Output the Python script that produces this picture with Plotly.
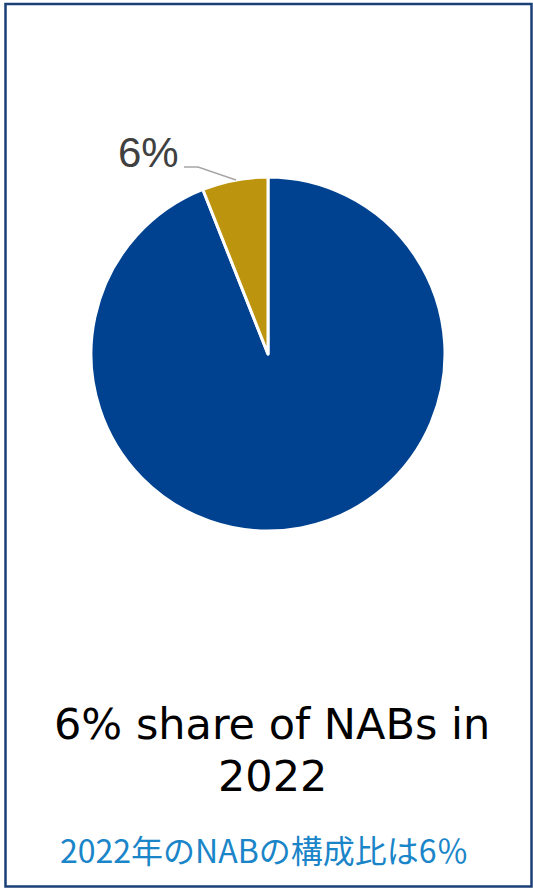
import plotly.graph_objects as go

labels = ["Other", "NABs"]
values = [94, 6]
colors = ["#00428F", "#BD940D"]
title_lines = ["6% share of NABs in", "2022"]
subtitle = "2022年のNABの構成比は6％"

W, H = 533, 889

def px(x):
    return x / W

def py(y):
    return 1 - y / H

fig = go.Figure()
fig.add_trace(go.Pie(
    labels=labels, values=values, sort=False, direction="clockwise", rotation=0,
    marker=dict(colors=colors, line=dict(color="white", width=3)),
    textinfo="none", hoverinfo="label+percent", showlegend=False,
    domain=dict(x=[px(91), px(445)], y=[py(531), py(177)]),
))

share = round(100 * values[1] / sum(values))
fig.add_annotation(text=f"{share}%", x=px(148), y=py(153), xref="paper", yref="paper",
                   xanchor="center", yanchor="middle", showarrow=False,
                   font=dict(family="Liberation Sans, Arial", size=42, color="#404040"))
fig.add_shape(type="path", xref="paper", yref="paper",
              path=f"M {px(184)} {py(167)} L {px(198)} {py(167)} L {px(236)} {py(180)}",
              line=dict(color="#A6A6A6", width=1.5))

for line, yc in zip(title_lines, [724, 776]):
    fig.add_annotation(text=line, x=px(272), y=py(yc), xref="paper", yref="paper",
                       xanchor="center", yanchor="middle", showarrow=False, align="center",
                       font=dict(family="DejaVu Sans", size=43, color="#000000"))
fig.add_annotation(text=subtitle, x=px(264), y=py(849), xref="paper", yref="paper",
                   xanchor="center", yanchor="middle", showarrow=False,
                   font=dict(family="Noto Sans CJK JP", size=32, color="#1A85C8"))

fig.add_shape(type="rect", xref="paper", yref="paper", x0=px(5.5), x1=px(531.5), y0=py(886.5), y1=py(4),
              line=dict(color="#1B3F77", width=2.5))

fig.update_layout(width=W, height=H, margin=dict(l=0, r=0, t=0, b=0),
                  paper_bgcolor="white", plot_bgcolor="white")
fig.write_html("out.html", config={"displayModeBar": False},
               post_script="document.body.style.margin='0px';")
